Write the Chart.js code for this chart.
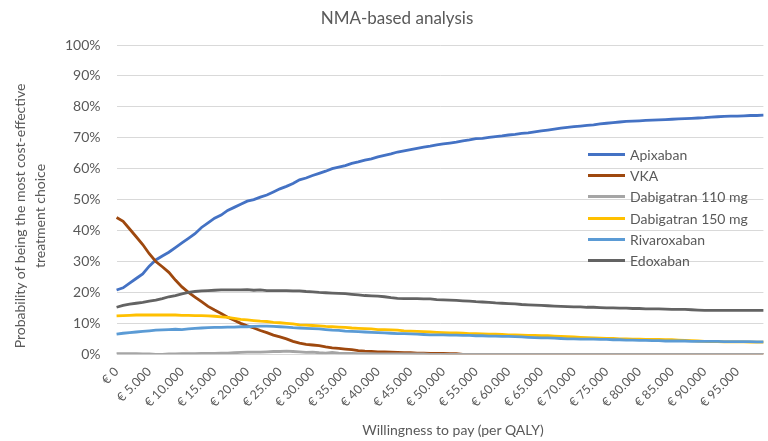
<!DOCTYPE html>
<html>
<head>
<meta charset="utf-8">
<script src="https://cdn.jsdelivr.net/npm/chart.js@4.4.1/dist/chart.umd.min.js"></script>
<style>
    body { margin: 0; overflow: hidden; background: #fff; font-family: Lato, "Open Sans", sans-serif; }
    #wrap { position: relative; width: 776px; height: 441px; }
    #chartTitle { position: absolute; left: 0; width: 794px; top: 7px; text-align: center; font-size: 17px; color: #595959; }
    #xTitle { position: absolute; left: 0; width: 906px; top: 421px; text-align: center; font-size: 14px; color: #595959; }
    #yTitle { position: absolute; left: -130px; top: 196px; width: 320px; height: 40px; line-height: 20px;
              text-align: center; font-size: 14px; color: #595959; transform: rotate(-90deg); }
    #legend { position: absolute; left: 588px; top: 144px; }
    .legend-item { height: 21.2px; display: flex; align-items: center; font-size: 14px; color: #595959; }
    .legend-line { width: 37px; height: 3px; margin-right: 5px; }
</style>
</head>
<body>
<div id="wrap">
    <canvas id="ceacChart"></canvas>
    <div id="chartTitle">NMA-based analysis</div>
    <div id="yTitle">Probability of being the most cost-effective<br>treatment choice</div>
    <div id="xTitle">Willingness to pay (per QALY)</div>
    <div id="legend"></div>
</div>
<script>
// Willingness to pay in thousands of euro (one point per € 1.000)
const wtpThousands = [
    0, 1, 2, 3, 4, 5, 6, 7, 8, 9, 10, 11, 12, 13, 14, 15, 16, 17, 18, 19,
    20, 21, 22, 23, 24, 25, 26, 27, 28, 29, 30, 31, 32, 33, 34, 35, 36, 37, 38, 39,
    40, 41, 42, 43, 44, 45, 46, 47, 48, 49, 50, 51, 52, 53, 54, 55, 56, 57, 58, 59,
    60, 61, 62, 63, 64, 65, 66, 67, 68, 69, 70, 71, 72, 73, 74, 75, 76, 77, 78, 79,
    80, 81, 82, 83, 84, 85, 86, 87, 88, 89, 90, 91, 92, 93, 94, 95, 96, 97, 98, 99
];

const tickLabels = ['€ 0', '€ 5.000', '€ 10.000', '€ 15.000', '€ 20.000', '€ 25.000', '€ 30.000',
    '€ 35.000', '€ 40.000', '€ 45.000', '€ 50.000', '€ 55.000', '€ 60.000', '€ 65.000',
    '€ 70.000', '€ 75.000', '€ 80.000', '€ 85.000', '€ 90.000', '€ 95.000'];

// Probability (%) of being the most cost-effective choice
const apixaban = [
    20.8, 21.5, 23.0, 24.5, 26.0, 28.5, 30.5, 31.8, 33.0, 34.5, 36.0, 37.5, 39.0, 41.0, 42.5, 44.0, 45.0, 46.5, 47.5, 48.5,
    49.5, 50.0, 50.8, 51.5, 52.5, 53.5, 54.3, 55.2, 56.4, 57.0, 57.8, 58.5, 59.2, 60.0, 60.5, 61.0, 61.7, 62.2, 62.8, 63.2,
    63.8, 64.3, 64.8, 65.4, 65.8, 66.2, 66.6, 67.0, 67.3, 67.7, 68.0, 68.3, 68.6, 69.0, 69.3, 69.7, 69.8, 70.1, 70.4, 70.6,
    70.9, 71.1, 71.4, 71.6, 71.9, 72.2, 72.5, 72.8, 73.1, 73.4, 73.6, 73.8, 74.0, 74.2, 74.5, 74.7, 74.9, 75.1, 75.3, 75.4,
    75.5, 75.6, 75.7, 75.8, 75.9, 76.0, 76.1, 76.2, 76.3, 76.4, 76.5, 76.7, 76.8, 76.9, 77.0, 77.0, 77.1, 77.2, 77.2, 77.3
];
const vka = [
    44.2, 43.0, 40.5, 38.0, 35.5, 32.5, 30.0, 28.3, 26.5, 24.0, 21.8, 20.0, 18.5, 17.0, 15.5, 14.3, 13.2, 12.0, 11.0, 10.0,
    9.2, 8.5, 7.7, 7.0, 6.2, 5.6, 5.0, 4.2, 3.6, 3.2, 3.0, 2.8, 2.4, 2.1, 1.9, 1.7, 1.5, 1.2, 1.0, 0.9,
    0.8, 0.8, 0.7, 0.6, 0.5, 0.5, 0.4, 0.4, 0.3, 0.3, 0.3, 0.2, 0.2, 0, 0, 0, 0, 0, 0, 0,
    0, 0, 0, 0, 0, 0, 0, 0, 0, 0, 0, 0, 0, 0, 0, 0, 0, 0, 0, 0,
    0, 0, 0, 0, 0, 0, 0, 0, 0, 0, 0, 0, 0, 0, 0, 0, 0, 0, 0, 0
];
const dabigatran110 = [
    0.2, 0.2, 0.2, 0.2, 0.1, 0.1, 0, 0, 0.1, 0.1, 0.2, 0.2, 0.2, 0.3, 0.3, 0.3, 0.4, 0.4, 0.5, 0.6,
    0.7, 0.7, 0.7, 0.8, 0.9, 0.9, 1.0, 0.9, 0.8, 0.6, 0.7, 0.5, 0.4, 0.6, 0.4, 0.3, 0.3, 0.2, 0.2, 0.2,
    0.1, 0.1, 0.1, 0.1, 0.1, 0.1, 0.1, 0.1, 0, 0, 0, 0, 0, 0, 0, 0, 0, 0, 0, 0,
    0, 0, 0, 0, 0, 0, 0, 0, 0, 0, 0, 0, 0, 0, 0, 0, 0, 0, 0, 0,
    0, 0, 0, 0, 0, 0, 0, 0, 0, 0, 0, 0, 0, 0, 0, 0, 0, 0, 0, 0
];
const dabigatran150 = [
    12.4, 12.5, 12.6, 12.7, 12.7, 12.7, 12.7, 12.7, 12.7, 12.7, 12.6, 12.6, 12.5, 12.5, 12.4, 12.3, 12.1, 11.9, 11.6, 11.3,
    11.1, 10.9, 10.7, 10.6, 10.3, 10.2, 10.0, 9.8, 9.5, 9.4, 9.3, 9.2, 9.0, 8.9, 8.8, 8.7, 8.5, 8.4, 8.3, 8.2,
    8.0, 8.0, 7.9, 7.8, 7.6, 7.5, 7.4, 7.3, 7.2, 7.1, 7.0, 6.9, 6.9, 6.8, 6.7, 6.7, 6.6, 6.5, 6.5, 6.4,
    6.3, 6.3, 6.2, 6.1, 6.1, 6.0, 6.0, 5.9, 5.8, 5.7, 5.6, 5.5, 5.4, 5.3, 5.2, 5.1, 5.1, 5.0, 5.0, 4.9,
    4.9, 4.8, 4.8, 4.8, 4.7, 4.7, 4.6, 4.5, 4.4, 4.3, 4.2, 4.1, 4.1, 4.0, 4.0, 4.0, 4.0, 3.9, 3.9, 3.9
];
const rivaroxaban = [
    6.5, 6.8, 7.0, 7.2, 7.4, 7.6, 7.8, 7.9, 8.0, 8.1, 8.0, 8.2, 8.4, 8.5, 8.6, 8.7, 8.7, 8.8, 8.8, 8.9,
    8.9, 9.0, 9.1, 9.1, 9.0, 8.9, 8.8, 8.6, 8.5, 8.4, 8.3, 8.2, 8.0, 7.8, 7.7, 7.5, 7.4, 7.3, 7.2, 7.1,
    7.0, 6.9, 6.8, 6.7, 6.7, 6.6, 6.5, 6.4, 6.3, 6.3, 6.3, 6.2, 6.2, 6.1, 6.1, 6.0, 6.0, 5.9, 5.9, 5.8,
    5.8, 5.7, 5.6, 5.5, 5.4, 5.3, 5.3, 5.2, 5.1, 5.0, 5.0, 4.9, 4.9, 4.9, 4.8, 4.8, 4.7, 4.7, 4.6, 4.6,
    4.5, 4.5, 4.4, 4.4, 4.3, 4.3, 4.3, 4.3, 4.2, 4.2, 4.2, 4.2, 4.2, 4.1, 4.1, 4.1, 4.1, 4.1, 4.0, 4.0
];
const edoxaban = [
    15.2, 15.8, 16.2, 16.5, 16.8, 17.2, 17.5, 18.0, 18.6, 19.0, 19.5, 20.0, 20.3, 20.5, 20.6, 20.7, 20.8, 20.8, 20.8, 20.8,
    20.9, 20.7, 20.8, 20.6, 20.6, 20.6, 20.6, 20.5, 20.5, 20.3, 20.2, 20.0, 19.9, 19.8, 19.7, 19.6, 19.4, 19.2, 19.0, 18.9,
    18.8, 18.6, 18.3, 18.1, 18.0, 18.0, 18.0, 17.9, 17.9, 17.7, 17.6, 17.5, 17.4, 17.3, 17.2, 17.0, 16.9, 16.8, 16.6, 16.5,
    16.4, 16.3, 16.1, 16.0, 15.9, 15.8, 15.7, 15.6, 15.5, 15.4, 15.3, 15.3, 15.2, 15.2, 15.1, 15.0, 15.0, 14.9, 14.9, 14.8,
    14.8, 14.7, 14.7, 14.7, 14.6, 14.5, 14.5, 14.5, 14.4, 14.3, 14.2, 14.2, 14.2, 14.2, 14.2, 14.2, 14.2, 14.2, 14.2, 14.2
];

const seriesNames = ['Apixaban', 'VKA', 'Dabigatran 110 mg', 'Dabigatran 150 mg', 'Rivaroxaban', 'Edoxaban'];
const seriesColors = ['#4472C4', '#9E480E', '#A5A5A5', '#FFC000', '#5B9BD5', '#636363'];
const seriesValues = [apixaban, vka, dabigatran110, dabigatran150, rivaroxaban, edoxaban];

const textColor = '#595959';
const fontFamily = 'Lato, "Open Sans", sans-serif';

const ctx = document.getElementById('ceacChart').getContext('2d');
const ceacChart = new Chart(ctx, {
    type: 'line',
    data: {
        labels: wtpThousands,
        datasets: seriesValues.map((values, i) => ({
            label: seriesNames[i],
            data: values,
            borderColor: seriesColors[i],
            backgroundColor: seriesColors[i],
            borderWidth: 2.8,
            pointRadius: 0,
            fill: false,
            tension: 0,
            // later series on top, like the original
            order: seriesValues.length - i
        }))
    },
    options: {
        responsive: true,
        maintainAspectRatio: false,
        animation: false,
        layout: { padding: { top: 45, right: 3, bottom: 29, left: 49 } },
        plugins: {
            legend: { display: false },
            tooltip: { enabled: false }
        },
        scales: {
            x: {
                offset: false,
                grid: { display: false },
                border: { display: false },
                ticks: {
                    autoSkip: false,
                    maxRotation: 45,
                    minRotation: 45,
                    color: textColor,
                    font: { family: fontFamily, size: 12.5 },
                    padding: 2,
                    callback: function(value, index) {
                        return index % 5 === 0 ? tickLabels[index / 5] : '';
                    }
                }
            },
            y: {
                min: 0,
                max: 100,
                grid: { color: '#D9D9D9', lineWidth: 1, drawTicks: false },
                border: { display: false },
                ticks: {
                    stepSize: 10,
                    color: textColor,
                    font: { family: fontFamily, size: 14 },
                    padding: 16,
                    callback: value => value + '%'
                }
            }
        }
    }
});

// Legend inside the plot area
const legend = document.getElementById('legend');
legend.innerHTML = seriesNames.map((name, i) => `
    <div class="legend-item">
        <span class="legend-line" style="background:${seriesColors[i]}"></span>
        <span>${name}</span>
    </div>
`).join('');
</script>
</body>
</html>
